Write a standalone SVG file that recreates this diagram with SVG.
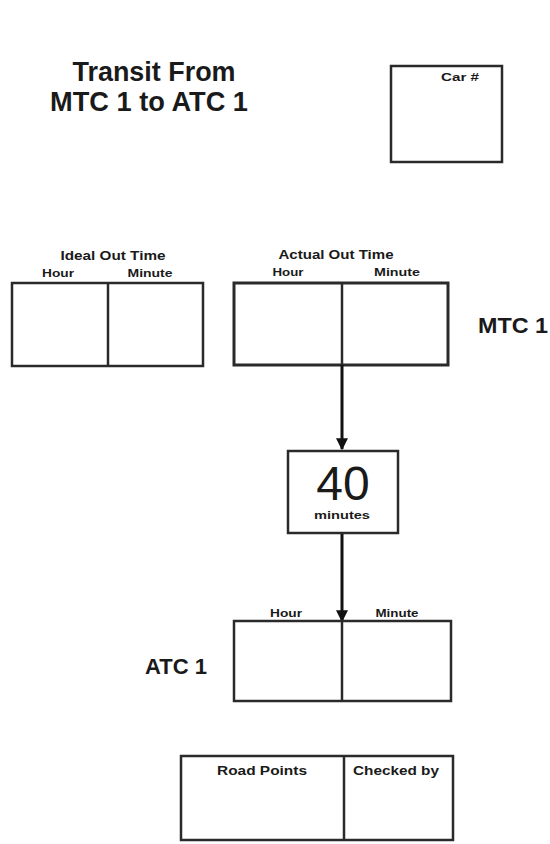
<svg xmlns="http://www.w3.org/2000/svg" width="550" height="844" viewBox="0 0 550 844">
<style>
.box{fill:#fff;stroke:#2a2a2a;stroke-width:2.5}
.thick{stroke-width:3}
.div{stroke:#2a2a2a;stroke-width:2.5}
.t{font-family:"Liberation Sans",Arial,sans-serif;font-weight:bold;fill:#1a1a1a;text-anchor:middle}
.s{font-size:10px}
.m{font-size:12px}
.big{font-size:27px}
.lab{font-size:22px}
.conn{stroke:#111;stroke-width:3;fill:none}
</style>
<defs>
<marker id="ah" viewBox="0 0 10 10" refX="9" refY="5" markerWidth="4" markerHeight="4" orient="auto" markerUnits="strokeWidth">
<path d="M0,0 L10,5 L0,10 z" fill="#111"/>
</marker>
</defs>
<g id="title">
<text class="t big" x="154" y="81" textLength="163" lengthAdjust="spacingAndGlyphs">Transit From</text>
<text class="t big" x="149" y="111" textLength="198" lengthAdjust="spacingAndGlyphs">MTC 1 to ATC 1</text>
</g>
<g id="car">
<rect class="box" x="391" y="66" width="111" height="96"/>
<text class="t s" x="460" y="81" textLength="38" lengthAdjust="spacingAndGlyphs">Car #</text>
</g>
<g id="ideal">
<text class="t m" x="113" y="260" textLength="105" lengthAdjust="spacingAndGlyphs">Ideal Out Time</text>
<text class="t s" x="58" y="277" textLength="32" lengthAdjust="spacingAndGlyphs">Hour</text>
<text class="t s" x="150" y="277" textLength="45" lengthAdjust="spacingAndGlyphs">Minute</text>
<rect class="box" x="12" y="283" width="191" height="83"/>
<line class="div" x1="108" y1="283" x2="108" y2="366"/>
</g>
<g id="mtc1">
<text class="t m" x="336" y="259" textLength="115" lengthAdjust="spacingAndGlyphs">Actual Out Time</text>
<text class="t s" x="288" y="276" textLength="31" lengthAdjust="spacingAndGlyphs">Hour</text>
<text class="t s" x="397" y="276" textLength="46" lengthAdjust="spacingAndGlyphs">Minute</text>
<rect class="box thick" x="234" y="283" width="214" height="82"/>
<line class="div" x1="342" y1="283" x2="342" y2="365"/>
<text class="t lab" x="513" y="333" textLength="70" lengthAdjust="spacingAndGlyphs">MTC 1</text>
</g>
<g id="connectors">
<line class="conn" x1="342" y1="365" x2="342" y2="449" marker-end="url(#ah)"/>
<line class="conn" x1="342" y1="533" x2="342" y2="621" marker-end="url(#ah)"/>
</g>
<g id="duration">
<rect class="box" x="288" y="451" width="110" height="82"/>
<text class="t" x="343" y="500" style="font-weight:normal;font-size:48px">40</text>
<text class="t s" x="342" y="519" textLength="56" lengthAdjust="spacingAndGlyphs">minutes</text>
</g>
<g id="atc1">
<text class="t s" x="286" y="617" textLength="32" lengthAdjust="spacingAndGlyphs">Hour</text>
<text class="t s" x="397" y="617" textLength="43" lengthAdjust="spacingAndGlyphs">Minute</text>
<rect class="box" x="234" y="621" width="217" height="80"/>
<line class="div" x1="342" y1="621" x2="342" y2="701"/>
<text class="t lab" x="176" y="674" textLength="62" lengthAdjust="spacingAndGlyphs">ATC 1</text>
</g>
<g id="checks">
<rect class="box" x="181" y="756" width="272" height="84"/>
<line class="div" x1="344" y1="756" x2="344" y2="840"/>
<text class="t m" x="262" y="775" textLength="90" lengthAdjust="spacingAndGlyphs">Road Points</text>
<text class="t m" x="396" y="775" textLength="86" lengthAdjust="spacingAndGlyphs">Checked by</text>
</g>
</svg>
